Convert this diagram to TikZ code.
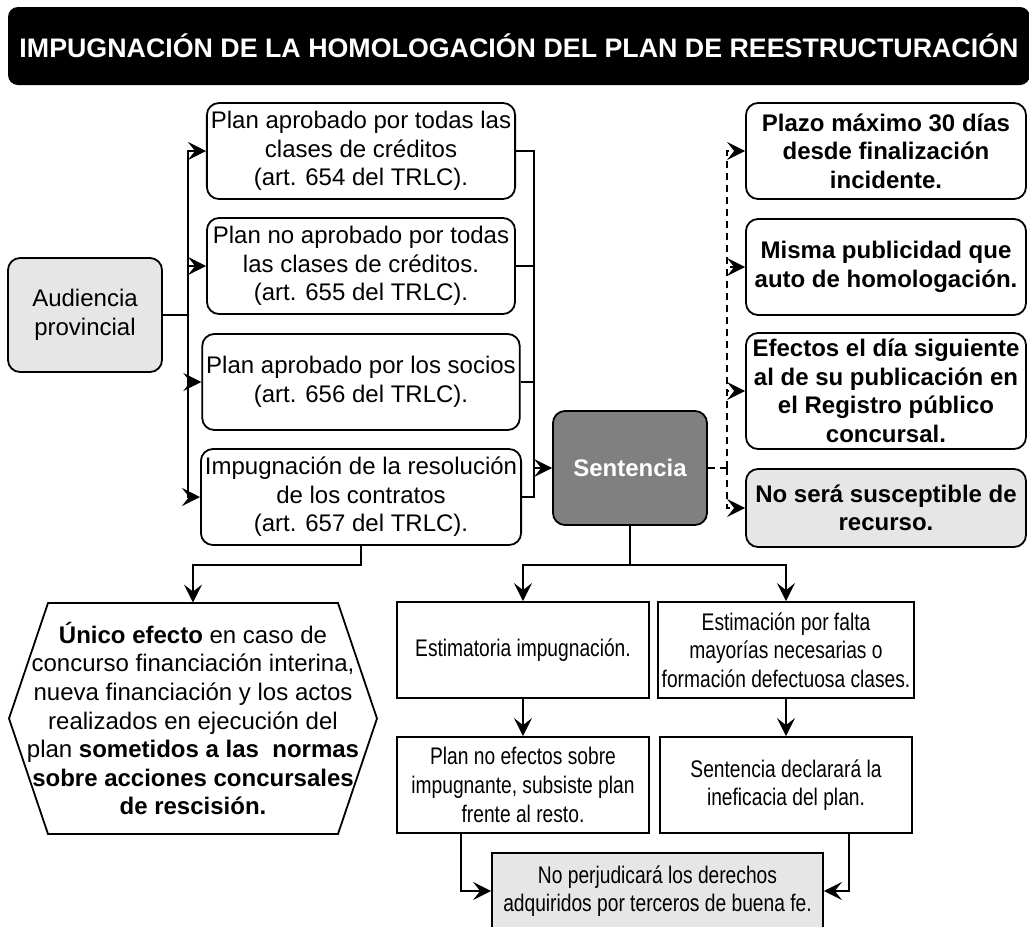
\documentclass[tikz,border=0pt]{standalone}
\usepackage{fontspec}
\setmainfont{Liberation Sans}
\newfontfamily\estrecha[FakeStretch=0.8]{Liberation Sans}
\usetikzlibrary{calc,arrows.meta}

\definecolor{gris}{HTML}{E6E6E6}
\definecolor{grisoscuro}{HTML}{808080}

\tikzset{
  linea/.style={line width=0.9pt},
  flecha/.style={line width=0.9pt, -{Stealth[length=9pt,width=9pt,inset=3.5pt]}},
  caja/.style={draw, linea, rounded corners=6pt, align=center, inner sep=2pt,
    font=\fontsize{12}{14.3}\selectfont},
  plan/.style={caja, minimum width=154pt, minimum height=48pt},
  nota/.style={caja, minimum width=140pt, font=\fontsize{12}{14.3}\selectfont\bfseries},
  cuadro/.style={draw, linea, align=center, inner sep=2pt, minimum width=126pt,
    minimum height=48pt, font=\estrecha\fontsize{12}{14.3}\selectfont},
}

\begin{document}
\begin{tikzpicture}[x=0.5pt,y=-0.5pt]
    \useasboundingbox (0,0) rectangle (1029,927);

    \node[fill=black, rounded corners=5pt, minimum width=511pt, minimum height=39pt,
      text=white, font=\fontsize{13.4}{16}\selectfont\bfseries] (titulo) at (519,46)
      {IMPUGNACIÓN DE LA HOMOLOGACIÓN DEL PLAN DE REESTRUCTURACIÓN};

    \node[caja, fill=gris, minimum width=77pt, minimum height=57pt] (aud) at (85,315) {Audiencia\\provincial};

    \node[plan] (p1) at (361,151) {Plan aprobado por todas las\\clases de créditos\\(art. 654 del TRLC).};
    \node[plan] (p2) at (361,266) {Plan no aprobado por todas\\las clases de créditos.\\(art. 655 del TRLC).};
    \node[plan] (p3) at (361,382) {Plan aprobado por los socios\\(art. 656 del TRLC).};
    \node[plan] (p4) at (361,497) {Impugnación de la resolución\\de los contratos\\(art. 657 del TRLC).};

    \node[caja, fill=grisoscuro, text=white, font=\fontsize{12}{14.3}\selectfont\bfseries,
      minimum width=77pt, minimum height=57pt] (sent) at (630,468) {Sentencia};

    \node[nota, minimum height=48pt] (r1) at (886,151) {Plazo máximo 30 días\\desde finalización\\incidente.};
    \node[nota, minimum height=48pt] (r2) at (886,267) {Misma publicidad que\\auto de homologación.};
    \node[nota, minimum height=58pt] (r3) at (886,391) {Efectos el día siguiente\\al de su publicación en\\el Registro público\\concursal.};
    \node[nota, fill=gris, minimum height=39pt] (r4) at (886,508) {No será susceptible de\\recurso.};

    \node[cuadro] (e1) at (523,650) {Estimatoria impugnación.};
    \node[cuadro] (e2) at (786,650) {Estimación por falta\\mayorías necesarias o\\formación defectuosa clases.};
    \node[cuadro] (f1) at (523,785) {Plan no efectos sobre\\impugnante, subsiste plan\\frente al resto.};
    \node[cuadro] (f2) at (786,785) {Sentencia declarará la\\ineficacia del plan.};
    \node[cuadro, fill=gris, minimum width=165.5pt, minimum height=38pt] (noperj) at (657.5,891)
      {No perjudicará los derechos\\adquiridos por terceros de buena fe.};

    % hexagono
    \node[align=center, minimum width=145pt, minimum height=115.5pt, inner sep=2pt,
      font=\fontsize{12}{14.3}\selectfont] (efecto) at (193,718.5)
      {\textbf{Único efecto} en caso de\\concurso financiación interina,\\nueva financiación y los actos\\realizados en ejecución del\\plan \textbf{sometidos a las\ \ normas}\\\textbf{sobre acciones concursales}\\\textbf{de rescisión.}};
    \draw[linea] ($(efecto)+(-145,-115.5)$) -- ($(efecto)+(145,-115.5)$) -- ($(efecto)+(184,0)$)
      -- ($(efecto)+(145,115.5)$) -- ($(efecto)+(-145,115.5)$) -- ($(efecto)+(-184,0)$) -- cycle;

    % conectores
    \coordinate (bizq) at (188,315);
    \foreach \i in {1,...,4}
      \draw[flecha] (aud.east) -- (bizq) |- (p\i.west);

    \coordinate (bder) at (534,468);
    \foreach \i in {1,...,4}
      \draw[linea] (p\i.east) -| (bder);
    \draw[flecha] (bder) -- (sent.west);

    \coordinate (bdash) at (727,468);
    \draw[linea, dash pattern=on 3.5pt off 2.5pt] (sent.east) -- (bdash);
    \foreach \i in {1,...,4}
      \draw[flecha, dash pattern=on 3.5pt off 2.5pt] (bdash) |- (r\i.west);

    \coordinate (babajo) at (630,565);
    \draw[flecha] (sent.south) -- (babajo) -| (e1.north);
    \draw[flecha] (sent.south) -- (babajo) -| (e2.north);
    \draw[flecha] (e1) -- (f1);
    \draw[flecha] (e2) -- (f2);
    \draw[flecha] ([xshift=-31pt]f1.south) |- (noperj.west);
    \draw[flecha] ([xshift=31.5pt]f2.south) |- (noperj.east);

    \coordinate (bhex) at (361,565);
    \draw[flecha] (p4.south) -- (bhex) -| (efecto.north);
\end{tikzpicture}
\end{document}
